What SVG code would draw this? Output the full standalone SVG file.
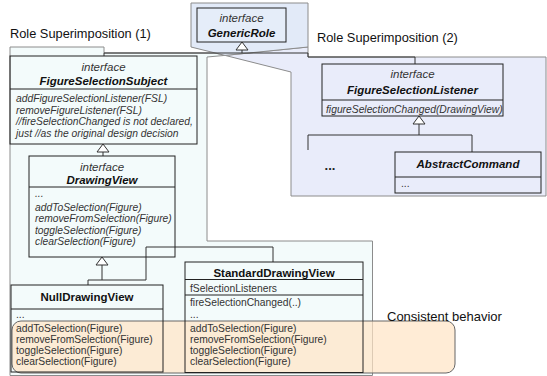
<svg xmlns="http://www.w3.org/2000/svg" width="547" height="376" viewBox="0 0 547 376">
<style>
.reg{stroke:#8c8c8c;stroke-width:1}
.box{fill:none;stroke:#222;stroke-width:1}
.t{font-family:"Liberation Sans",Arial,sans-serif}
.ti{font-size:11.5px;font-weight:bold;text-anchor:middle;fill:#111}
.it{font-style:italic}
.if{font-size:11.5px;font-style:italic;text-anchor:middle;fill:#333}
.m{font-size:10.3px;fill:#333}
.lbl{font-size:12.8px;fill:#111}
.con{fill:none;stroke:#333;stroke-width:1}
.tri{fill:#fff;stroke:#333;stroke-width:1}
</style>
<rect width="547" height="376" fill="#fff"/>
<g id="regions">
<path id="region1" class="reg" fill="#f3fbfb" d="M10,47 H104 V53 H215 L225,55.4 L207,57 V241 H372.5 V375.5 H10 Z"/>
<path id="region2" class="reg" fill="#e9ecfa" d="M225,55.4 L308,47 V57 H546 V196 H291 V72 Z"/>
<path id="regionGeneric" class="reg" fill="#e2eaf8" d="M191,3 H308 V47 L225,55.4 L191,47 Z"/>
<text class="t lbl" x="10" y="38">Role Superimposition (1)</text>
<text class="t lbl" x="317" y="42">Role Superimposition (2)</text>
</g>
<g id="consistent">
<rect x="12" y="321" width="443" height="52" rx="9" fill="#ffe4c4" fill-opacity="0.7" stroke="#666"/>
<text class="t" x="387" y="321" font-size="13px" fill="#111">Consistent behavior</text>
</g>
<g id="connectors">
<path class="con" d="M242,50 V53 H104 V56"/>
<path class="con" d="M242,53 H308 V57 H415 V64"/>
<polygon class="tri" points="242,42 236,50 248,50"/>
<path class="con" d="M103,152 V156"/>
<polygon class="tri" points="103,144 97,152 109,152"/>
<path class="con" d="M102,265 V280 H88 V285"/>
<path class="con" d="M102,280 H146 V247 H273 V262"/>
<polygon class="tri" points="102,257 96,265 108,265"/>
<path class="con" d="M419,124 V135"/>
<path class="con" d="M308,150 V135 H472 V152"/>
<polygon class="tri" points="419,116 413,124 425,124"/>
</g>
<g id="GenericRole">
<rect class="box" x="197" y="8" width="89" height="34" style="fill:#e5edf9"/>
<text class="t if" x="241.5" y="22">interface</text>
<text class="t ti it" x="241.5" y="37">GenericRole</text>
</g>
<g id="FigureSelectionSubject">
<rect class="box" x="10" y="56" width="187" height="88"/>
<line class="box" x1="10" y1="89" x2="197" y2="89"/>
<text class="t if" x="103.5" y="71">interface</text>
<text class="t ti it" x="103.5" y="85">FigureSelectionSubject</text>
<text class="t m it" x="16" y="102">addFigureSelectionListener(FSL)</text>
<text class="t m it" x="16" y="113.5">removeFigureListener(FSL)</text>
<text class="t m it" x="16" y="125">//fireSelectionChanged is not declared,</text>
<text class="t m it" x="16" y="136.5">just //as the original design decision</text>
</g>
<g id="DrawingView">
<rect class="box" x="29" y="156" width="146" height="101"/>
<line class="box" x1="29" y1="187" x2="175" y2="187"/>
<text class="t if" x="102" y="170.5">interface</text>
<text class="t ti it" x="102" y="184">DrawingView</text>
<text class="t m it" x="35" y="197">...</text>
<text class="t m it" x="35" y="210.5">addToSelection(Figure)</text>
<text class="t m it" x="35" y="222">removeFromSelection(Figure)</text>
<text class="t m it" x="35" y="233.5">toggleSelection(Figure)</text>
<text class="t m it" x="35" y="245">clearSelection(Figure)</text>
</g>
<g id="NullDrawingView">
<rect class="box" x="11" y="285" width="152" height="87"/>
<line class="box" x1="11" y1="309" x2="163" y2="309"/>
<text class="t ti" x="87" y="300.5">NullDrawingView</text>
<text class="t m" x="16" y="318">...</text>
<text class="t m" x="16" y="332">addToSelection(Figure)</text>
<text class="t m" x="16" y="343">removeFromSelection(Figure)</text>
<text class="t m" x="16" y="354">toggleSelection(Figure)</text>
<text class="t m" x="16" y="365">clearSelection(Figure)</text>
</g>
<g id="StandardDrawingView">
<rect class="box" x="185" y="262" width="178" height="110.5"/>
<line class="box" x1="185" y1="279.5" x2="363" y2="279.5"/>
<line class="box" x1="185" y1="295" x2="363" y2="295"/>
<text class="t ti" x="274" y="276.5">StandardDrawingView</text>
<text class="t m" x="190" y="292">fSelectionListeners</text>
<text class="t m" x="190" y="306">fireSelectionChanged(..)</text>
<text class="t m" x="190" y="318">...</text>
<text class="t m" x="190" y="332">addToSelection(Figure)</text>
<text class="t m" x="190" y="343">removeFromSelection(Figure)</text>
<text class="t m" x="190" y="354">toggleSelection(Figure)</text>
<text class="t m" x="190" y="365">clearSelection(Figure)</text>
</g>
<g id="FigureSelectionListener">
<rect class="box" x="322" y="64" width="181" height="52"/>
<line class="box" x1="322" y1="100" x2="503" y2="100"/>
<text class="t if" x="412.5" y="78">interface</text>
<text class="t ti it" x="412.5" y="94">FigureSelectionListener</text>
<text class="t m it" x="326" y="112.5">figureSelectionChanged(DrawingView)</text>
</g>
<g id="Ellipsis">
<text class="t" x="330" y="169.5" font-size="13px" font-weight="bold" text-anchor="middle" fill="#222">...</text>
</g>
<g id="AbstractCommand">
<rect class="box" x="395" y="152" width="146" height="41"/>
<line class="box" x1="395" y1="177" x2="541" y2="177"/>
<text class="t ti it" x="468" y="167.5">AbstractCommand</text>
<text class="t m" x="401" y="187">...</text>
</g>
</svg>
